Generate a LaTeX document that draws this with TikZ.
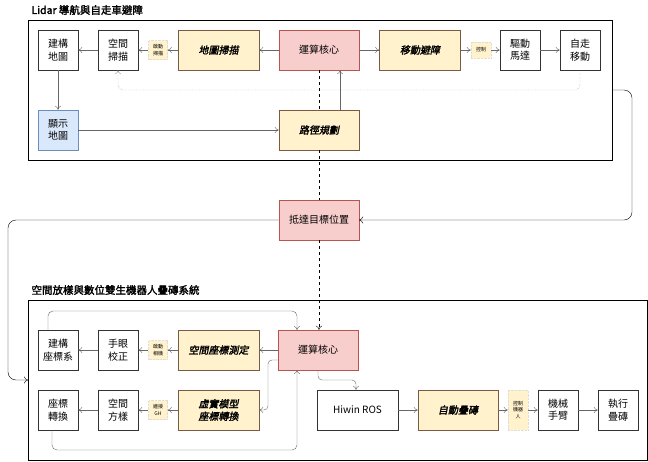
\documentclass[tikz,border=0pt]{standalone}
\usepackage{fontspec}
\setmainfont{Noto Sans CJK TC}
\newfontfamily\bi{Noto Sans CJK TC}[FakeSlant=0.2,FakeBold=2]
\newfontfamily\bt{Noto Sans CJK TC}[FakeBold=2]
\usetikzlibrary{arrows.meta}
\definecolor{pk}{HTML}{F8CECC}\definecolor{pkd}{HTML}{B85450}
\definecolor{yl}{HTML}{FFF2CC}\definecolor{yld}{HTML}{7A5A45}
\definecolor{bl}{HTML}{DAE8FC}\definecolor{bld}{HTML}{6C8EBF}
\definecolor{ln}{HTML}{666666}
\begin{document}
\begin{tikzpicture}[x=1pt,y=-1pt,
 box/.style={draw=black!80,fill=white,minimum width=40pt,minimum height=40pt,inner sep=1pt,align=center,font=\fontsize{10}{12.5}\selectfont},
 core/.style={box,fill=pk,draw=pkd,minimum width=80pt},
 yb/.style={box,fill=yl,draw=yld,minimum width=81pt,font=\fontsize{10}{12.5}\selectfont\bi},
 lab/.style={fill=yl,draw=yl!70!black!40,densely dotted,inner sep=1pt,minimum width=19pt,minimum height=19pt,align=center,font=\fontsize{5}{6.5}\selectfont},
 ar/.style={draw=ln,-{To[length=4pt,width=6pt]}},
 ark/.style={draw=black,-{To[length=4pt,width=7pt]}},
 title/.style={anchor=west,font=\fontsize{10.5}{12}\selectfont\bt}]
\useasboundingbox (0,0) rectangle (648,461);
\node[title] at (28,10) {Lidar 導航與自走車避障};
\node[draw=black,minimum width=584pt,minimum height=140pt,anchor=north west] (F1) at (28,20) {};
\node[title] at (28,290) {空間放樣與數位雙生機器人疊磚系統};
\node[draw=black,minimum width=619pt,minimum height=160pt,anchor=north west] (F2) at (28,300) {};
% top
\node[box] (a1) at (58,50) {建構\\地圖};
\node[box] (a2) at (118,50) {空間\\掃描};
\node[lab] (l1) at (158,50) {啟動\\掃描};
\node[yb] (a3) at (218.5,50) {地圖掃描};
\node[core] (c1) at (319,50) {運算核心};
\node[yb] (a4) at (420,50) {移動避障};
\node[lab,minimum width=20pt,minimum height=16pt] (l2) at (481,50) {控制};
\node[box] (a5) at (520,50) {驅動\\馬達};
\node[box] (a6) at (580,50) {自走\\移動};
\node[box,fill=bl,draw=bld] (b1) at (58,130) {顯示\\地圖};
\node[yb,minimum width=80pt] (b2) at (319,130) {路徑規劃};
\node[core] (t) at (319,220) {抵達目標位置};
% dashed core link
\draw[dashed] (c1.south)--(b2.north);
\draw[dashed] (b2.south)--(t.north);
\draw[ar] (c1)--(a3); \draw[ar] (a3)--(l1); \draw[ar] (l1)--(a2); \draw[ar] (a2)--(a1);
\draw[ar] (c1)--(a4); \draw[ar] (a4)--(l2); \draw[ar] (l2)--(a5); \draw[ar] (a5)--(a6);
\draw[ar] (a1)--(b1); \draw[ar] (b1)--(b2);
\draw[ar] (b2.north -| 340,0)--(c1.south -| 340,0);
\draw[ar,draw=ln!70,densely dotted,rounded corners=5pt] (a6.south)--(580,90)--(118,90)--(a2.south);
% lower
\node[box] (d1) at (58,350) {建構\\座標系};
\node[box] (d2) at (118,350) {手眼\\校正};
\node[lab] (l3) at (158,350) {啟動\\相機};
\node[yb] (d3) at (218.5,350) {空間座標測定};
\node[core] (c2) at (318,350) {運算核心};
\node[box] (e1) at (58,410) {座標\\轉換};
\node[box] (e2) at (118,410) {空間\\方樣};
\node[lab] (l4) at (158,410) {連接\\GH};
\node[yb,align=center] (e3) at (218.5,410) {虛實模型\\座標轉換};
\node[box,minimum width=81pt] (h) at (357.5,410) {Hiwin ROS};
\node[yb,minimum width=80pt] (e4) at (458,410) {自動疊磚};
\node[lab,minimum width=20pt,minimum height=40pt] (l5) at (518,410) {控制\\機器\\人};
\node[box] (e5) at (558,410) {機械\\手臂};
\node[box] (e6) at (618,410) {執行\\疊磚};
\draw[dashed,-{To[length=4pt,width=6pt]}] (t.south)--(t.south |- c2.north);
\draw[ar] (c2)--(d3); \draw[ar] (d3)--(l3); \draw[ar] (l3)--(d2); \draw[ar] (d2)--(d1);
\draw[ar] (e3)--(l4); \draw[ar] (l4)--(e2); \draw[ar] (e2)--(e1);
\draw[ar] (h)--(e4); \draw[ar] (e4)--(l5); \draw[ar] (l5)--(e5); \draw[ar] (e5)--(e6);
\draw[ar,rounded corners=5pt] (d1.north -| 48,0)--(48,311)--(297,311)--(297,330);
\draw[ar,rounded corners=5pt] (52,430)--(52,450)--(297,450)--(297,370);
\draw[ar,rounded corners=4pt] (278,360)--(268,360)--(268,410)--(e3.east);
\draw[ar,rounded corners=4pt] (318,370)--(318,380)--(356,380)--(h.north -| 356,0);
% outer connectors
\coordinate (o1) at (612,90); \coordinate (o2) at (28,380);
\draw[ark,rounded corners=8pt] (o1)--(632,90)--(632,220)--(t.east);
\draw[ark,rounded corners=8pt] (t.west)--(8,220)--(8,380)--(o2);
\end{tikzpicture}
\end{document}
